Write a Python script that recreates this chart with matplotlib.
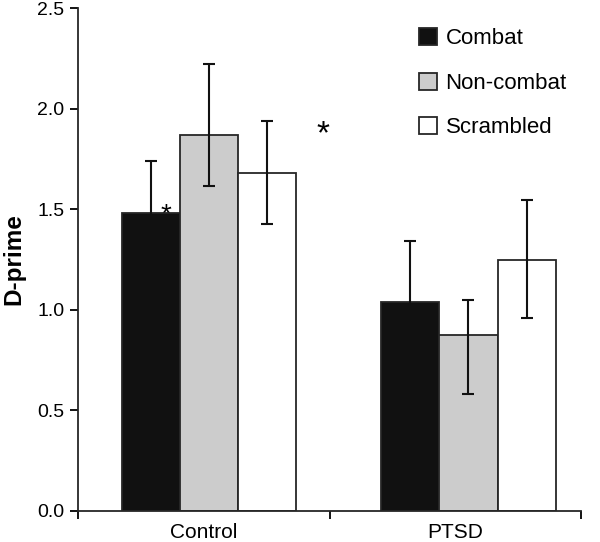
import matplotlib.pyplot as plt
import numpy as np
from matplotlib.patches import Patch

plt.rcParams['font.family'] = ['Liberation Sans', 'DejaVu Sans']

# data
groups = ['Control', 'PTSD']
conditions = ['Combat', 'Non-combat', 'Scrambled']
means = np.array([[1.48, 1.87, 1.68],
                  [1.04, 0.875, 1.25]])
err_lo = np.array([[0.26, 0.255, 0.255],
                   [0.30, 0.295, 0.29]])
err_hi = np.array([[0.26, 0.353, 0.257],
                   [0.30, 0.175, 0.295]])
colors = ['#111111', '#cccccc', '#ffffff']

fig = plt.figure(figsize=(6, 5.42), dpi=100)
ax = fig.add_axes([0.1305, 0.0572, 0.8375, 0.928])

width = 0.231
shift = [0.02, 0.053]
x = np.arange(len(groups))
for j, cond in enumerate(conditions):
    pos = x + shift + (j - 1) * width
    ax.bar(pos, means[:, j], width, color=colors[j], edgecolor='#262626',
           linewidth=1.3, zorder=2, label=cond)
    ax.errorbar(pos, means[:, j], yerr=[err_lo[:, j], err_hi[:, j]], fmt='none',
                ecolor='#111111', elinewidth=1.5, capsize=4, capthick=1.5, zorder=3)

# significance marks
ax.text(x[0] + shift[0] - width + 0.06, 1.47, '*', fontsize=20, ha='center',
        va='center', zorder=1)
ax.text(0.472, 1.87, '*', fontsize=24, ha='center', va='center')

ax.set_xlim(-0.5, 1.5)
ax.set_ylim(0, 2.5)
ax.set_yticks(np.arange(0, 2.51, 0.5))
ax.set_yticklabels(['%.1f' % v for v in np.arange(0, 2.51, 0.5)], fontsize=14)
ax.set_xticks(x)
ax.set_xticklabels(groups, fontsize=15)
ax.tick_params(axis='x', length=0, pad=9)
ax.set_xticks([-0.5, 0.5, 1.5], minor=True)
ax.tick_params(axis='x', which='minor', length=6, width=1.3, direction='out')
ax.tick_params(axis='y', length=6, width=1.3, direction='out', pad=4)
ax.set_ylabel('D-prime', fontsize=17.5, fontweight='bold')
ax.yaxis.set_label_coords(-0.106, 0.5)

for s in ['top', 'right']:
    ax.spines[s].set_visible(False)
for s in ['left', 'bottom']:
    ax.spines[s].set_linewidth(1.3)
    ax.spines[s].set_color('#262626')

handles = [Patch(facecolor=c, edgecolor='#262626', linewidth=1.3) for c in colors]
ax.legend(handles, conditions, loc='upper left', bbox_to_anchor=(0.638, 1.0),
          frameon=False, fontsize=16, handlelength=0.8, handleheight=0.8,
          handletextpad=0.4, labelspacing=1.05)

fig.savefig('out.png', dpi=100)
